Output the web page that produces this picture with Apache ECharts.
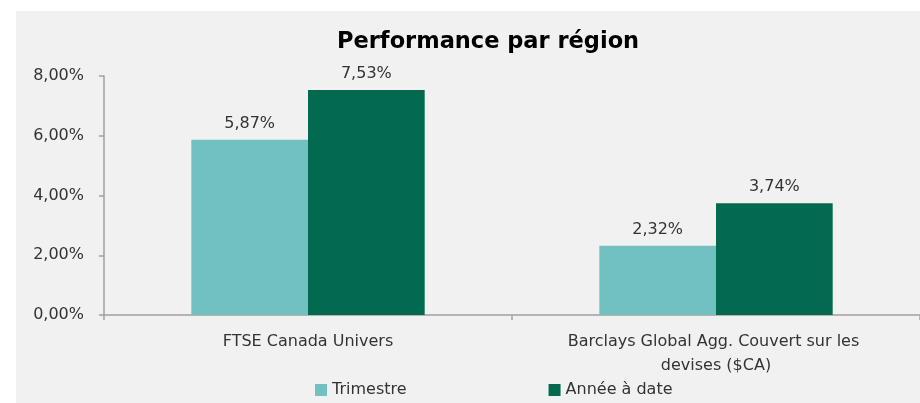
<!DOCTYPE html>
<html>
<head>
<meta charset="utf-8">
<script src="https://cdn.jsdelivr.net/npm/echarts@6/dist/echarts.min.js"></script>
<style>
  html, body { margin: 0; padding: 0; background: #fff; }
  #chart { width: 920px; height: 403px; }
</style>
</head>
<body>
<div id="chart"></div>
<script>
// données
const categories = ['FTSE Canada Univers', 'Barclays Global Agg. Couvert sur les devises ($CA)'];
const trimestre = [5.87, 2.32];
const anneeADate = [7.53, 3.74];
const seriesNames = ['Trimestre', 'Année à date'];

const fontFam = '"DejaVu Sans", sans-serif';
const fmtPct = v => v.toFixed(2).replace('.', ',') + '%';

let chart = echarts.init(document.getElementById('chart'));

let barLabel = {
    show: true,
    position: 'top',
    distance: 8,
    color: '#333',
    fontSize: 16,
    fontFamily: fontFam,
    formatter: p => fmtPct(p.value)
};

let option = {
    backgroundColor: '#fff',
    animation: false,
    graphic: [{
        type: 'rect',
        z: -10,
        silent: true,
        shape: { x: 16, y: 11, width: 904, height: 392 },
        style: { fill: '#f1f1f1' }
    }],
    title: {
        text: 'Performance par région',
        left: 332,
        top: 26,
        textStyle: { fontSize: 22.5, fontWeight: 'bold', color: '#000', fontFamily: fontFam }
    },
    legend: {
        data: seriesNames,
        left: 310,
        top: 377,
        itemWidth: 12,
        itemHeight: 12,
        itemGap: 142,
        icon: 'rect',
        textStyle: { fontSize: 16, color: '#333', fontFamily: fontFam }
    },
    grid: { left: 104, right: -2, top: 76, bottom: 88, containLabel: false },
    xAxis: {
        type: 'category',
        data: categories,
        axisLine: { lineStyle: { color: '#a0a0a0', width: 1.5 } },
        axisTick: { show: true, length: 5, lineStyle: { color: '#a0a0a0', width: 1.5 } },
        axisLabel: {
            interval: 0,
            margin: 15,
            fontSize: 16,
            color: '#333',
            fontFamily: fontFam,
            lineHeight: 24,
            width: 330,
            overflow: 'break'
        }
    },
    yAxis: {
        type: 'value',
        min: 0,
        max: 8,
        interval: 2,
        axisLine: { show: true, lineStyle: { color: '#a0a0a0', width: 1.5 } },
        axisTick: { show: true, length: 5, lineStyle: { color: '#a0a0a0', width: 1.5 } },
        splitLine: { show: false },
        axisLabel: {
            margin: 20,
            fontSize: 16,
            color: '#333',
            fontFamily: fontFam,
            formatter: v => fmtPct(v)
        }
    },
    series: [
        {
            name: seriesNames[0],
            type: 'bar',
            data: trimestre,
            barWidth: '28.6%',
            barGap: '0%',
            itemStyle: { color: '#72c1c1' },
            label: barLabel
        },
        {
            name: seriesNames[1],
            type: 'bar',
            data: anneeADate,
            barWidth: '28.6%',
            barGap: '0%',
            itemStyle: { color: '#036a4f' },
            label: barLabel
        }
    ]
};
chart.setOption(option);
</script>
</body>
</html>
